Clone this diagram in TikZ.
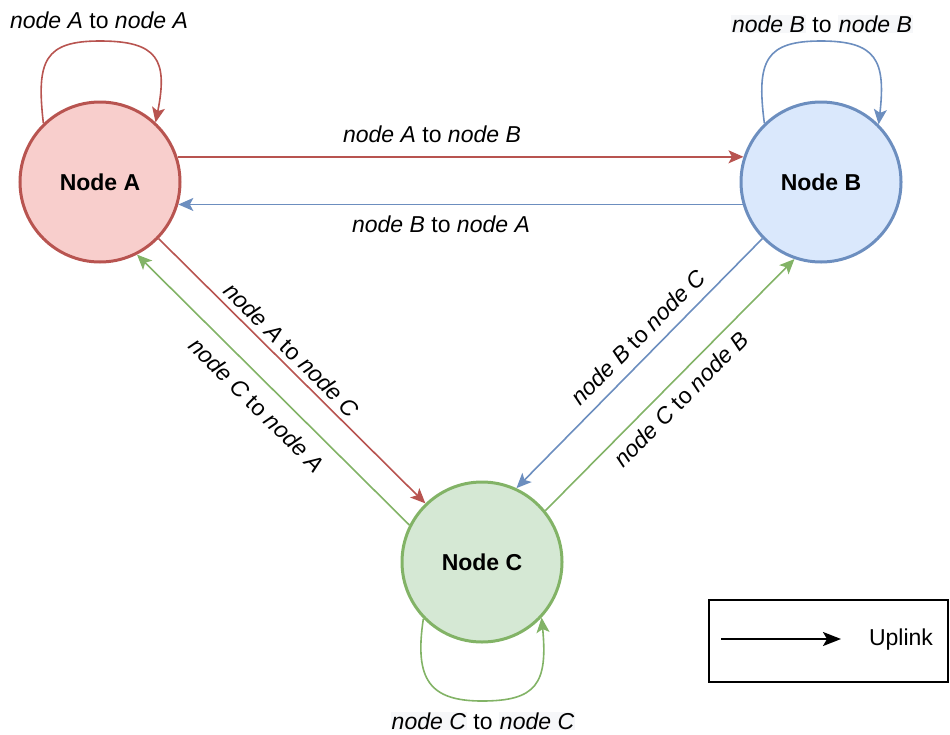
\documentclass[tikz,border=0pt]{standalone}
\usepackage{fontspec}
\setmainfont{Liberation Sans}
\usetikzlibrary{arrows.meta}
\definecolor{redS}{HTML}{B85450}
\definecolor{redF}{HTML}{F8CECC}
\definecolor{blueS}{HTML}{6C8EBF}
\definecolor{blueF}{HTML}{DAE8FC}
\definecolor{greenS}{HTML}{82B366}
\definecolor{greenF}{HTML}{D5E8D4}
\definecolor{lblbg}{HTML}{F6F7F9}
\newcommand{\nd}[1]{\textit{node #1}}
\newcommand{\bgnd}[1]{{\setlength{\fboxsep}{1pt}\colorbox{lblbg}{\textit{node #1}}}}
\begin{document}
\begin{tikzpicture}[x=1pt,y=-1pt,
  state/.style={circle, minimum size=160pt, line width=3pt, inner sep=0pt,
    font=\fontsize{23}{27}\selectfont\bfseries},
  lbl/.style={font=\fontsize{23}{27}\selectfont, inner sep=0pt},
  link/.style={line width=1.6pt, -{Stealth[length=15pt,width=13pt,inset=3.5pt]}}]
\useasboundingbox (0,0) rectangle (950,734);

\node[state, draw=redS, fill=redF] (A) at (100,182) {Node A};
\node[state, draw=blueS, fill=blueF] (B) at (821,182) {Node B};
\node[state, draw=greenS, fill=greenF] (C) at (482,562) {Node C};

% straight connectors
\draw[link, redS] (A.18) -- (B.162);
\draw[link, blueS] (B.196) -- (A.-16);
\draw[link, redS] (A.-44) -- (C.134);
\draw[link, greenS] (C.153) -- (A.-63);
\draw[link, blueS] (B.224.5) -- (C.65);
\draw[link, greenS] (C.39) -- (B.251);

% self loops
\draw[link, redS] (A.134) .. controls (36,60) and (45,41) .. (100,41)
  .. controls (158,41) and (168,60) .. (A.47);
\draw[link, blueS] (B.134) .. controls (756,60) and (766,41) .. (821,41)
  .. controls (876,41) and (886,60) .. (B.45);
\draw[link, greenS] (C.224) .. controls (414,680) and (430,701) .. (482,701)
  .. controls (536,701) and (548,684) .. (C.317);

% labels
\node[lbl] (lAB) at (432,134) {\nd{A} to \nd{B}};
\node[lbl] (lBA) at (441,224) {\nd{B} to \nd{A}};
\node[lbl, rotate=-45] (lAC) at (292,350) {\nd{A} to \nd{C}};
\node[lbl, rotate=-45] (lCA) at (257,405) {\nd{C} to \nd{A}};
\node[lbl, rotate=45] (lBC) at (638,337) {\nd{B} to \nd{C}};
\node[lbl, rotate=45] (lCB) at (681,399) {\nd{C} to \nd{B}};
\node[lbl] (lAA) at (99,20) {\nd{A} to \nd{A}};
\node[lbl] (lBB) at (822,24) {\bgnd{B} to \bgnd{B}};
\node[lbl] (lCC) at (483,721) {\bgnd{C} to \bgnd{C}};

% legend
\node[draw, line width=2pt, minimum width=239pt, minimum height=82pt, inner sep=0pt] (legend) at (828.5,641) {};
\coordinate (ls) at (721,639);
\coordinate (le) at (841,639);
\draw[line width=2pt, -{Stealth[length=18pt,width=14pt,inset=4pt]}] (ls) -- (le);
\node[lbl] (uplink) at (901,640) {Uplink};
\end{tikzpicture}
\end{document}
